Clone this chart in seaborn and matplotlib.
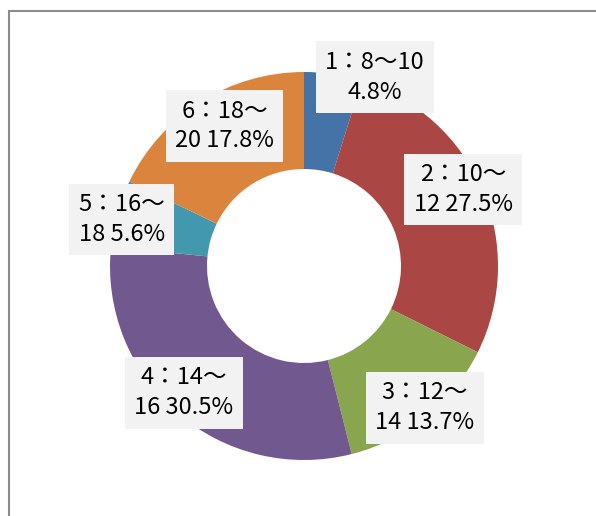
import numpy as np
import matplotlib
matplotlib.use("Agg")
import matplotlib.pyplot as plt
import seaborn as sns
from matplotlib.patches import Rectangle

# data
categories = ["1：8～10", "2：10～\n12", "3：12～\n14", "4：14～\n16", "5：16～\n18", "6：18～\n20"]
shares = [4.8, 27.5, 13.7, 30.5, 5.6, 17.8]
colors = ["#4572A7", "#AA4643", "#89A54E", "#71588F", "#4198AF", "#DB843D"]

sns.set_theme(style="white")
plt.rcParams['font.family'] = ['Noto Sans CJK JP', 'DejaVu Sans']

W, H = 596, 516
fig = plt.figure(figsize=(W / 100, H / 100), dpi=100)
fig.patch.set_facecolor("white")

# outer frame (continues past right/bottom edges)
fig.patches.append(Rectangle((9 / W, -0.05), 1.2, (H - 11) / H + 0.05,
                             transform=fig.transFigure, fill=False,
                             edgecolor="#8c8c8c", linewidth=1.5))

cx, cy, R = 304, 266, 194
ax = fig.add_axes([(cx - R) / W, (H - cy - R) / H, 2 * R / W, 2 * R / H])
palette = sns.color_palette(colors)
wedges, _ = ax.pie(shares, colors=palette, startangle=90, counterclock=False,
                   radius=1.0, wedgeprops=dict(width=0.5, edgecolor="none"))
ax.set_xlim(-1, 1)
ax.set_ylim(-1, 1)
ax.set_aspect("equal")
ax.axis("off")

# label placement (style): radius and angle nudge per label
lab_r = [1.04, 0.91, 0.96, 0.90, 0.97, 0.83]
lab_da = [12.0, -2.5, -1.5, 2.7, -1.5, 2.5]

cum = np.cumsum([0] + shares[:-1])
total = sum(shares)
for i, (cat, s) in enumerate(zip(categories, shares)):
    mid = (cum[i] + s / 2) / total * 360 + lab_da[i]
    th = np.deg2rad(90 - mid)
    x, y = lab_r[i] * np.cos(th), lab_r[i] * np.sin(th)
    txt = f"{cat} {s:.1f}%" if "\n" in cat else f"{cat}\n{s:.1f}%"
    ax.text(x, y, txt, ha="center", va="center", fontsize=17,
            color="black", linespacing=1.38,
            bbox=dict(boxstyle="square,pad=0.4", facecolor="#F2F2F2", edgecolor="none"))

fig.savefig("out.png", dpi=100)
